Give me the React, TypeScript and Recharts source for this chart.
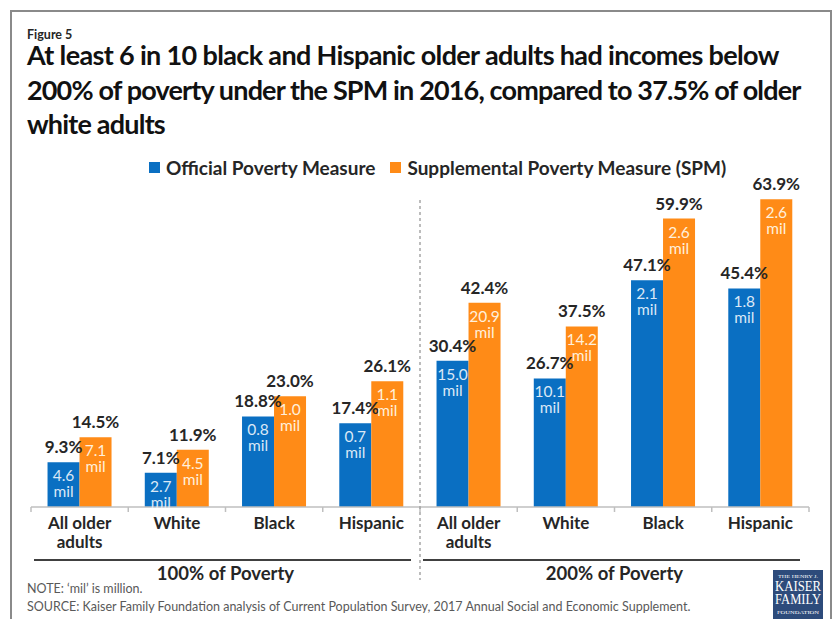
import React from 'react';
import { BarChart, Bar, XAxis, YAxis, LabelList, Legend } from 'recharts';

// values
const groups = ['100% of Poverty', '200% of Poverty'];
const races = ['All older adults', 'White', 'Black', 'Hispanic'];
const officialPct = [9.3, 7.1, 18.8, 17.4, 30.4, 26.7, 47.1, 45.4];
const spmPct = [14.5, 11.9, 23.0, 26.1, 42.4, 37.5, 59.9, 63.9];
const officialMil = ['4.6', '2.7', '0.8', '0.7', '15.0', '10.1', '2.1', '1.8'];
const spmMil = ['7.1', '4.5', '1.0', '1.1', '20.9', '14.2', '2.6', '2.6'];
const seriesNames = ['Official Poverty Measure', 'Supplemental Poverty Measure (SPM)'];
const titleLines = [
  'At least 6 in 10 black and Hispanic older adults had incomes below',
  '200% of poverty under the SPM in 2016, compared to 37.5% of older',
  'white adults',
];

const BLUE = '#0a6fc2';
const ORANGE = '#ff8b17';
const DARK = '#262626';
const FONT = 'Lato, "Open Sans", sans-serif';

const data = groups.flatMap((g, gi) =>
  races.map((r, ri) => {
    const i = gi * races.length + ri;
    return {
      cat: r,
      group: g,
      official: officialPct[i],
      spm: spmPct[i],
      officialMil: officialMil[i],
      spmMil: spmMil[i],
    };
  })
);

const splitLabel = (s: string) => {
  const w = s.split(' ');
  if (w.length <= 2) return [s];
  return [w.slice(0, 2).join(' '), w.slice(2).join(' ')];
};

const CategoryTick = (props: any) => {
  const { x, y, payload, index, visibleTicksCount } = props;
  const off = payload.offset || 0;
  const lines = splitLabel(String(payload.value));
  const last = index === (visibleTicksCount ?? data.length) - 1;
  return (
    <g>
      <line x1={x - off} x2={x - off} y1={y} y2={y + 5} stroke="#bfbfbf" strokeWidth={1.5} />
      {last && <line x1={x + off} x2={x + off} y1={y} y2={y + 5} stroke="#bfbfbf" strokeWidth={1.5} />}
      {lines.map((l, i) => (
        <text key={i} x={x} y={y + 22 + i * 19} textAnchor="middle" fontSize={17} fontWeight={700} fill={DARK} fontFamily={FONT}>
          {l}
        </text>
      ))}
    </g>
  );
};

const GroupTick = (props: any) => {
  const { x, y, payload, index } = props;
  const off = payload.offset || 0;
  return (
    <g>
      <line x1={x - off + 3} x2={x + off - 9} y1={y + 3} y2={y + 3} stroke="#404040" strokeWidth={1.8} />
      <text x={x} y={y + 23} textAnchor="middle" fontSize={18.5} fontWeight={700} fill={DARK} fontFamily={FONT}>
        {payload.value}
      </text>
      {index === 0 && (
        <line x1={x + off} x2={x + off} y1={y - 357} y2={y + 23} stroke="#a6a6a6" strokeWidth={1.5} strokeDasharray="3 3" />
      )}
    </g>
  );
};

const pctLabel = (props: any) => {
  const { x, y, width, value } = props;
  return (
    <text x={x + width / 2} y={y - 9} textAnchor="middle" fontSize={17} fontWeight={700} fill={DARK} fontFamily={FONT}>
      {`${Number(value).toFixed(1)}%`}
    </text>
  );
};

const milLabel = (color: string) => (props: any) => {
  const { x, y, width, value } = props;
  return (
    <text textAnchor="middle" fontSize={15.5} fill={color} fontFamily={FONT}>
      <tspan x={x + width / 2} y={y + 19}>{value}</tspan>
      <tspan x={x + width / 2} y={y + 35}>mil</tspan>
    </text>
  );
};

const renderLegend = () => (
  <div style={{ display: 'flex', alignItems: 'center', height: 24, paddingLeft: 149, fontFamily: FONT, fontSize: 19, fontWeight: 700, color: DARK }}>
    {seriesNames.map((n, i) => (
      <div key={n} style={{ display: 'flex', alignItems: 'center', marginRight: 15 }}>
        <span style={{ width: 11, height: 11, background: i === 0 ? BLUE : ORANGE, marginRight: 6, display: 'inline-block' }} />
        <span>{n}</span>
      </div>
    ))}
  </div>
);

// per-line tracking so the Lato title fills the same widths as the original Calibri
const titleSpacing = [-0.65, -0.85, -0.8];

export default function App() {
  return (
    <div style={{ position: 'absolute', left: 0, top: 0, width: 836, height: 619, background: '#fff', overflow: 'hidden', fontFamily: FONT }}>
      <div style={{ position: 'absolute', left: 10, top: 10, width: 818, height: 700, border: '2px solid #8a8a8a' }} />
      <div style={{ position: 'absolute', left: 27, top: 27, fontSize: 12.5, lineHeight: '15px', fontWeight: 700, color: DARK }}>Figure 5</div>
      <div style={{ position: 'absolute', left: 27, top: 38, fontSize: 27, lineHeight: '34.5px', fontWeight: 700, color: '#111', whiteSpace: 'nowrap' }}>
        {titleLines.map((t, i) => (
          <div key={i} style={{ letterSpacing: titleSpacing[i] }}>{t}</div>
        ))}
      </div>
      <div style={{ position: 'absolute', left: 0, top: 0 }}>
        <BarChart width={836} height={619} data={data} margin={{ top: 146, right: 27, bottom: 22, left: 31 }} barCategoryGap="17%" barGap={0}>
          <YAxis hide domain={[0, 70]} />
          <XAxis dataKey="cat" height={50} tickSize={0} tickMargin={0} tickLine={false} axisLine={{ stroke: '#bfbfbf', strokeWidth: 1.5 }} tick={<CategoryTick />} interval={0} />
          <XAxis xAxisId="grp" dataKey="group" allowDuplicatedCategory={false} height={40} tickSize={0} tickMargin={0} tickLine={false} axisLine={false} tick={<GroupTick />} interval={0} />
          <Legend verticalAlign="top" content={renderLegend} wrapperStyle={{ top: 155, left: 0, width: 836 }} />
          <Bar dataKey="official" name={seriesNames[0]} fill={BLUE} isAnimationActive={false}>
            <LabelList dataKey="official" content={pctLabel} />
            <LabelList dataKey="officialMil" content={milLabel('#dbe8f6')} />
          </Bar>
          <Bar dataKey="spm" name={seriesNames[1]} fill={ORANGE} isAnimationActive={false}>
            <LabelList dataKey="spm" content={pctLabel} />
            <LabelList dataKey="spmMil" content={milLabel('#fff0dc')} />
          </Bar>
        </BarChart>
      </div>
      <div style={{ position: 'absolute', left: 27, top: 580, fontSize: 12.5, lineHeight: '18px', color: '#595959', whiteSpace: 'nowrap' }}>
        <div>NOTE: ‘mil’ is million.</div>
        <div>SOURCE: Kaiser Family Foundation analysis of Current Population Survey, 2017 Annual Social and Economic Supplement.</div>
      </div>
      <svg style={{ position: 'absolute', left: 773, top: 570 }} width={50} height={49}>
        <rect x={0} y={0} width={50} height={49} fill="#2d4b7b" />
        <text x={25} y={8} textAnchor="middle" fontSize={5} fill="#fff" fontFamily="Liberation Serif, serif" textLength={40} lengthAdjust="spacingAndGlyphs">THE HENRY J.</text>
        <text x={25} y={21} textAnchor="middle" fontSize={15} fill="#fff" fontFamily="Liberation Serif, serif" textLength={46} lengthAdjust="spacingAndGlyphs">KAISER</text>
        <text x={25} y={34} textAnchor="middle" fontSize={15} fill="#fff" fontFamily="Liberation Serif, serif" textLength={46} lengthAdjust="spacingAndGlyphs">FAMILY</text>
        <text x={25} y={44} textAnchor="middle" fontSize={5} fill="#fff" fontFamily="Liberation Serif, serif" textLength={42} lengthAdjust="spacingAndGlyphs">FOUNDATION</text>
      </svg>
    </div>
  );
}
